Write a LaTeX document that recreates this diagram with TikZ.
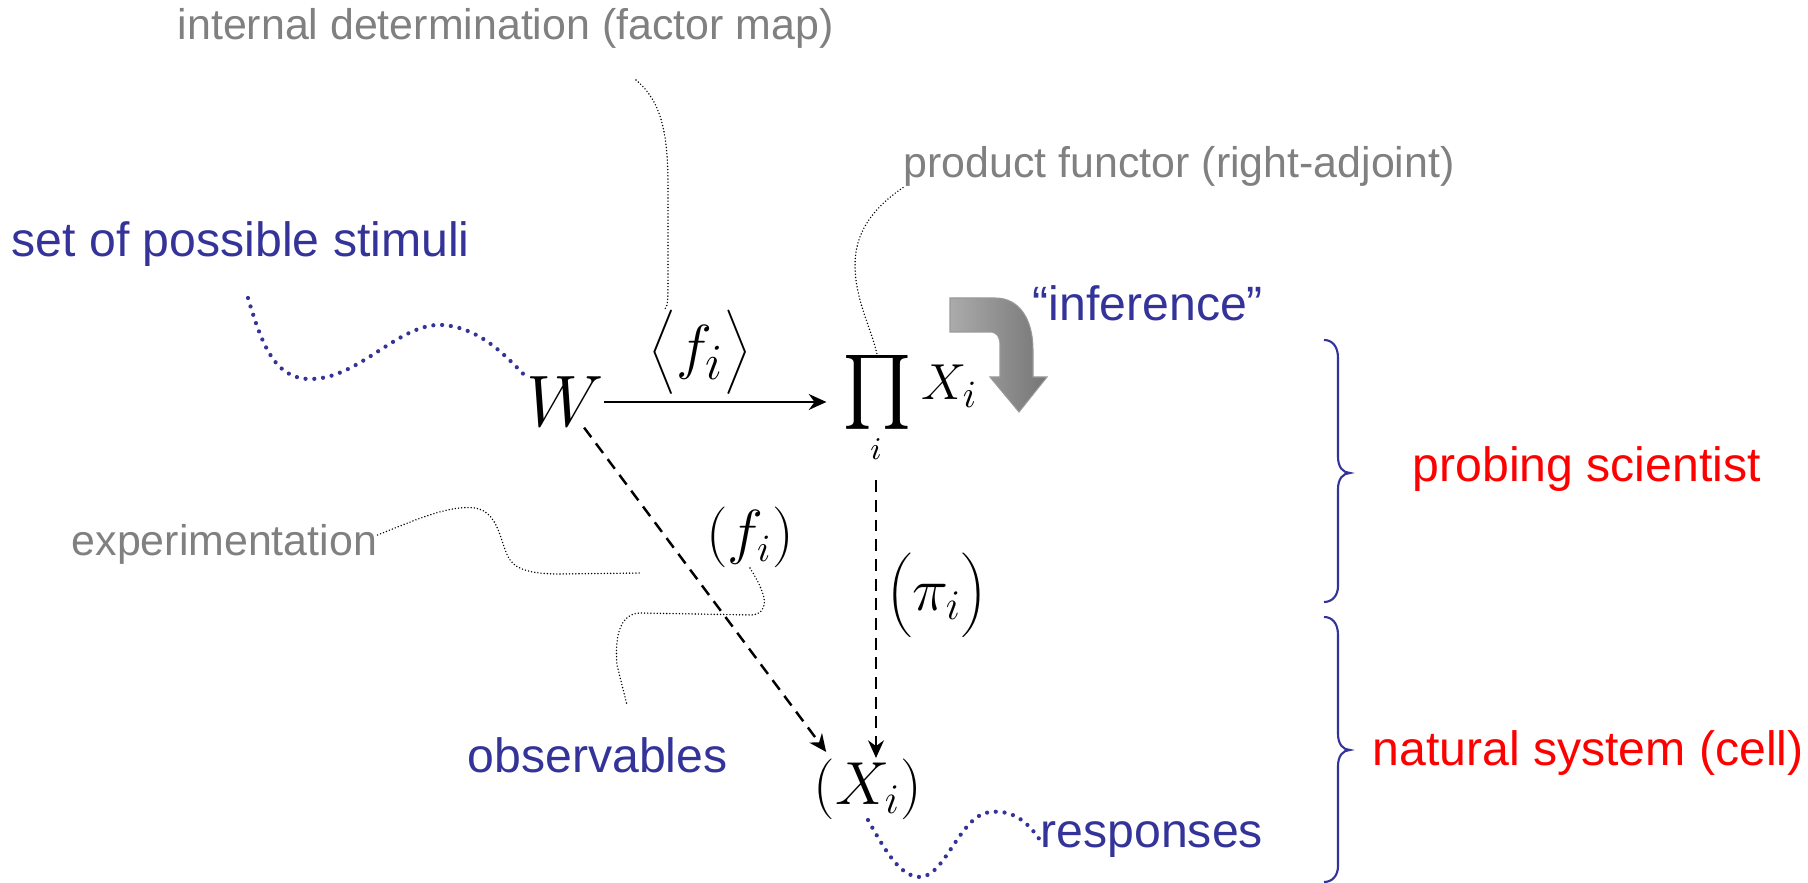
\documentclass[tikz,border=0pt]{standalone}
\usepackage{graphicx}
\usepackage{fontspec}
\setmainfont{Liberation Sans}
\usetikzlibrary{arrows.meta}
\definecolor{stimblue}{RGB}{51,51,153}
\definecolor{notegray}{RGB}{128,128,128}

\begin{document}
\begin{tikzpicture}[x=0.01cm, y=-0.01cm, >={Stealth[length=5pt,width=4.5pt]},
    note/.style={font=\fontsize{12.2}{14}\selectfont, text=notegray, inner sep=0pt},
    blue label/.style={font=\fontsize{13.7}{16}\selectfont, text=stimblue, inner sep=0pt},
    red label/.style={font=\fontsize{13.7}{16}\selectfont, text=red, inner sep=0pt},
    obj/.style={inner sep=0pt},
    map/.style={->, line width=0.7pt},
    dashed map/.style={->, line width=0.7pt, dash pattern=on 3.4pt off 2.2pt},
    pointer/.style={line width=0.45pt, line cap=round, dash pattern=on 0pt off 0.9pt},
    squiggle/.style={stimblue, line width=1.2pt, line cap=round, dash pattern=on 0pt off 2.5pt},
    brace line/.style={stimblue, line width=0.6pt}]
    \useasboundingbox (0,0) rectangle (1808,883);

    % objects of the diagram
    \node[obj, font=\fontsize{21}{25}\selectfont] (W) at (565,402) {$W$};
    \node[obj, font=\fontsize{19}{22}\selectfont] (fangle) at (700,352) {$\biggl\langle f_i\biggr\rangle$};
    \node[obj] (prod) at (877,392) {\scalebox{2.1}{$\prod$}};
    \node[obj, font=\fontsize{9}{10}\selectfont] (prodi) at (876,449) {$i$};
    \node[obj, font=\fontsize{15}{18}\selectfont, anchor=base west] (prodX) at (921,400) {$X_i$};
    \node[obj, font=\fontsize{18}{21}\selectfont] (pipar) at (937,595) {$\biggl(\pi_i\biggr)$};
    \node[obj, font=\fontsize{16}{19}\selectfont] (fpar) at (750,537) {$\Bigl(f_i\Bigr)$};
    \node[obj, font=\fontsize{17}{20}\selectfont] (Xs) at (868,789) {$\Bigl(X_i\Bigr)$};

    \draw[map, shorten >=0.15cm] (W.east) -- (W.east -| prod.west);
    \draw[dashed map, shorten <=0.2cm] (prodi.south) -- (prodi.south |- Xs.north);
    \draw[dashed map] (W) -- ([shift={(13,-6)}]Xs.north west);

    % labels
    \node[note, anchor=base west] (intdet) at (177,40) {internal determination (factor map)};
    \node[note, anchor=base west] (prodfun) at (903,178) {product functor (right-adjoint)};
    \node[note, anchor=base west] (exper) at (71,556) {experimentation};
    \node[blue label, anchor=base west] (stimuli) at (11,257) {set of possible stimuli};
    \node[blue label, anchor=base west] (infer) at (1032,321) {``inference''};
    \node[blue label, anchor=base west] (observ) at (467,773) {observables};
    \node[blue label, anchor=base west] (resp) at (1040,848) {responses};
    \node[red label, anchor=base west] (scientist) at (1412,482) {probing scientist};
    \node[red label, anchor=base west] (system) at (1372,766) {natural system (cell)};

    % pointers from the labels
    \coordinate (intdetend) at (636,80);
    \coordinate (experend) at (642,573);
    \coordinate (observend) at (627,705);
    \draw[pointer] (intdetend) .. controls (660,100) and (668,130) .. (668,185)
        -- (668,282) .. controls (668,298) and (668,306) .. ([shift={(16,0)}]fangle.north west);
    \draw[pointer] (prodfun.south west) .. controls (870,210) and (855,235) .. (855,265)
        .. controls (855,300) and (872,330) .. (prod.north);
    \draw[pointer] (exper.east |- 0,535) .. controls (420,518) and (450,505) .. (475,508)
        .. controls (500,512) and (500,545) .. (510,560)
        .. controls (518,572) and (540,574) .. (560,574) -- (experend);
    \draw[pointer] (fpar.south) .. controls (765,592) and (772,612) .. (752,615)
        -- (640,613) .. controls (618,614) and (615,640) .. (617,665) -- (observend);
    \draw[squiggle] (248,298) .. controls (262,345) and (275,380) .. (312,379)
        .. controls (360,378) and (400,322) .. (443,325)
        .. controls (480,328) and (505,355) .. (W.north west);
    \draw[squiggle] (Xs.south) .. controls (885,850) and (900,877) .. (920,877)
        .. controls (945,877) and (960,815) .. (990,812)
        .. controls (1010,810) and (1025,818) .. (resp.west);

    % inference arrow
    \shade[left color=black!33, right color=black!54, draw=black!40, line width=0.3pt]
        (950,298) -- (995,298) .. controls (1020,298) and (1033,320) .. (1033,350)
        -- (1033,377) -- (1047,377) -- (1019,412) -- (990,377) -- (1000,377)
        -- (1000,345) .. controls (1000,337) and (997,332) .. (990,332) -- (950,332) -- cycle;

    % braces
    \draw[brace line] (1324,340) .. controls (1332,340) and (1338,346) .. (1338,358)
        -- (1338,457) .. controls (1338,467) and (1343,473) .. (1350,473)
        .. controls (1343,473) and (1338,479) .. (1338,489)
        -- (1338,586) .. controls (1338,596) and (1332,602) .. (1324,602);
    \draw[brace line] (1324,617) .. controls (1332,617) and (1338,623) .. (1338,635)
        -- (1338,734) .. controls (1338,744) and (1343,750) .. (1350,750)
        .. controls (1343,750) and (1338,756) .. (1338,766)
        -- (1338,866) .. controls (1338,876) and (1332,882) .. (1324,882);
\end{tikzpicture}
\end{document}
